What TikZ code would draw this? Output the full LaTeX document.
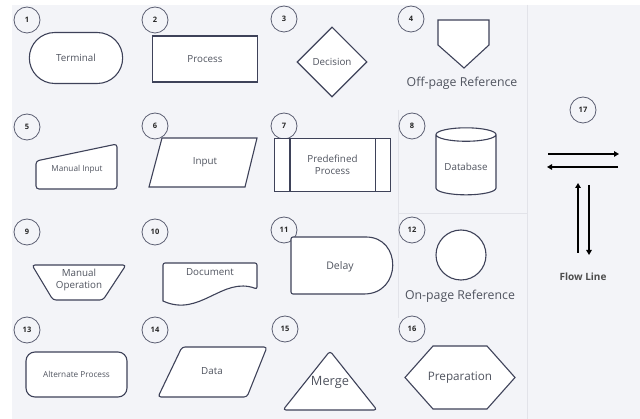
\documentclass[tikz,border=0pt]{standalone}
\usepackage{fontspec}
\setmainfont{Open Sans}
\usetikzlibrary{shapes.geometric,shapes.misc,arrows.meta}

\definecolor{paneBg}{HTML}{F3F4F8}
\definecolor{paneRule}{HTML}{E2E3E9}
\definecolor{symEdge}{HTML}{3E4259}
\definecolor{symText}{HTML}{50545F}

\tikzset{
  num/.style={circle, draw=symEdge!85, line width=0.8pt, minimum size=26pt,
    inner sep=0pt, text=black!85, font=\fontsize{7.5}{7.5}\selectfont\bfseries},
  sym/.style={draw=symEdge, line width=1.1pt, fill=white},
  symtext/.style={text=symText, font=\fontsize{9.8}{12}\selectfont, align=center},
  smalltext/.style={symtext, font=\fontsize{8.2}{9}\selectfont},
  caption/.style={text=symText, font=\fontsize{12.3}{14}\selectfont},
  flow/.style={line width=1.5pt, -{Triangle[length=5pt,width=5.5pt]}}
}

\begin{document}
\begin{tikzpicture}[x=1pt,y=-1pt]
  \useasboundingbox (0,0) rectangle (640,419);
  \fill[white] (0,0) rectangle (640,419);
  \fill[paneBg] (12,5) rectangle (640,419);
  % panel rules
  \draw[paneRule, line width=0.8pt] (398,110) -- (398,318);
  \draw[paneRule, line width=0.8pt] (398,213) -- (527,213);
  \draw[paneRule, line width=0.8pt] (527,5) -- (527,419);

  % row 1
  \node[num] (n1) at (27,20) {1};
  \node[sym, symtext, rounded rectangle, minimum width=100pt, minimum height=51pt] (terminal) at (76,58) {Terminal};
  \node[num] (n2) at (155,20) {2};
  \node[sym, symtext, rectangle, minimum width=105pt, minimum height=46pt] (process) at (205,59) {Process};
  \node[num] (n3) at (284,19) {3};
  \node[sym, symtext, diamond, minimum width=70pt, minimum height=70pt, inner sep=0pt] (decision) at (332,62) {Decision};
  \node[num] (n4) at (411,19) {4};
  \draw[sym] (438,20) -- (489,20) -- (489,45) -- (464,68) -- (438,45) -- cycle;
  \node[caption] (offpage) at (462,83) {Off-page Reference};

  % row 2
  \node[num] (n5) at (27,127) {5};
  \draw[sym, rounded corners=3pt] (36,161) -- (117,144) -- (117,189) -- (36,189) -- cycle;
  \node[smalltext] (maninput) at (77,169) {Manual Input};
  \node[num] (n6) at (155,126) {6};
  \draw[sym] (162,138) -- (257,138) -- (245,187) -- (149,187) -- cycle;
  \node[symtext] (input) at (205,162) {Input};
  \node[num] (n7) at (284,126) {7};
  \node[sym, symtext, rectangle, minimum width=116pt, minimum height=53pt] (predef) at (332.5,165) {Predefined\\Process};
  \draw[symEdge, line width=1.1pt] ([xshift=16pt]predef.north west) -- ([xshift=16pt]predef.south west);
  \draw[symEdge, line width=1.1pt] ([xshift=-16pt]predef.north east) -- ([xshift=-16pt]predef.south east);
  \node[num] (n8) at (412,126) {8};
  \node[sym, symtext, cylinder, shape border rotate=90, aspect=0.27, minimum width=60pt, minimum height=67pt] (database) at (466,166.5) {Database};

  % flow lines
  \node[num] (n17) at (583,110) {17};
  \coordinate (fa) at (548,154);
  \coordinate (fb) at (619,154);
  \coordinate (fc) at (618,167);
  \coordinate (fd) at (547,167);
  \coordinate (fe) at (578,253);
  \coordinate (ff) at (578,183);
  \coordinate (fg) at (589,185);
  \coordinate (fh) at (589,255);
  \draw[flow] (fa) -- (fb);
  \draw[flow] (fc) -- (fd);
  \draw[flow] (fe) -- (ff);
  \draw[flow] (fg) -- (fh);
  \node[text=black!70, font=\fontsize{10}{11}\selectfont\bfseries] (flowline) at (583,277) {Flow Line};

  % row 3
  \node[num] (n9) at (27,232) {9};
  \draw[sym, rounded corners=3pt] (32,265) -- (126,265) -- (103,300) -- (53,300) -- cycle;
  \node[symtext] (manop) at (79,280) {Manual\\Operation};
  \node[num] (n10) at (155,232) {10};
  \draw[sym] (257,289) .. controls (222,276) and (200,318) .. (163,301)
    [rounded corners=2pt] -- (163,263) -- (257,263) -- cycle;
  \node[symtext] (document) at (210,272) {Document};
  \node[num] (n11) at (284,230) {11};
  \draw[sym] (364,237) .. controls (402,237) and (402,294) .. (364,294)
    [rounded corners=2pt] -- (291,294) -- (291,237) -- cycle;
  \node[symtext, font=\fontsize{10.5}{12}\selectfont] (delay) at (340,267) {Delay};
  \node[num] (n12) at (412,230) {12};
  \node[sym, circle, minimum size=50pt] (onpage) at (461,255) {};
  \node[caption] (onpagecap) at (460,296) {On-page Reference};

  % row 4
  \node[num] (n13) at (27,330) {13};
  \node[sym, smalltext, rectangle, rounded corners=9pt, minimum width=101pt, minimum height=45pt] (altproc) at (76.5,374.5) {Alternate Process};
  \node[num] (n14) at (155,330) {14};
  \draw[sym, rounded corners=3pt] (182,347) -- (267,347) -- (247,397) -- (158,397) -- cycle;
  \node[symtext] (data) at (212,371) {Data};
  \node[num] (n15) at (285,329) {15};
  \draw[sym, rounded corners=3pt] (330,351) -- (377,410) -- (283,410) -- cycle;
  \node[symtext, font=\fontsize{12.8}{14}\selectfont] (merge) at (330,382) {Merge};
  \node[num] (n16) at (412,329) {16};
  \draw[sym] (405,377.5) -- (433,346) -- (487,346) -- (515,377.5) -- (487,409) -- (433,409) -- cycle;
  \node[symtext, font=\fontsize{11.7}{13}\selectfont] (prep) at (460,378) {Preparation};
\end{tikzpicture}
\end{document}
